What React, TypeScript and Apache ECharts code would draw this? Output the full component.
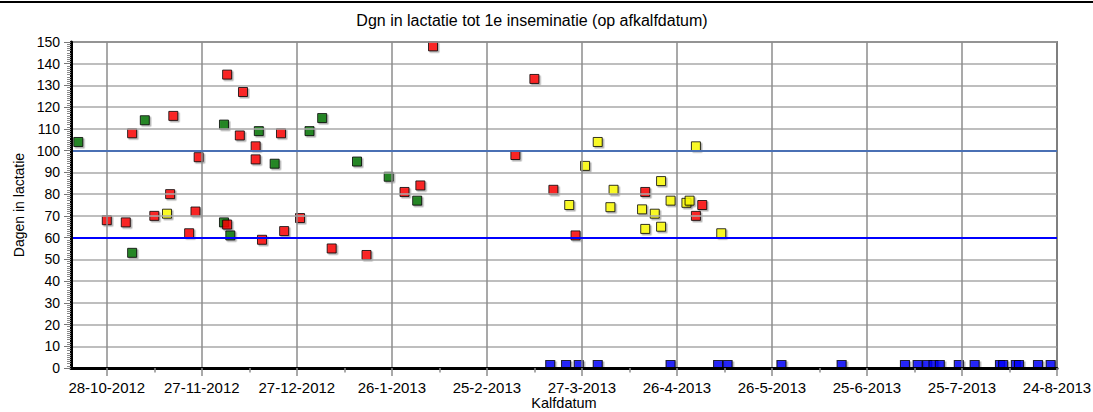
import React, { useEffect, useRef } from "react";
import * as echarts from "echarts";

const BASE = Date.UTC(2012, 9, 28);
const DAY = 86400000;

const TITLE = "Dgn in lactatie tot 1e inseminatie (op afkalfdatum)";
const Y_NAME = "Dagen in lactatie";
const X_NAME = "Kalfdatum";

const TICK_DATES = [
  "2012-10-28", "2012-11-27", "2012-12-27", "2013-01-26", "2013-02-25", "2013-03-27",
  "2013-04-26", "2013-05-26", "2013-06-25", "2013-07-25", "2013-08-24",
];
const X_MIN_DAYS = -11.3;
const X_MAX_DAYS = 300;
const Y_MIN = 0;
const Y_MAX = 150;
const Y_STEP = 10;
const REF_LINES = [100, 60];

const RED_DATES = [
  "2012-11-05", "2012-11-18", "2012-12-05", "2012-12-10", "2012-12-09", "2012-12-22",
  "2012-12-14", "2012-12-14", "2012-11-26", "2012-11-17", "2012-10-28", "2012-11-03",
  "2012-11-12", "2012-11-25", "2012-11-23", "2012-12-05", "2012-12-16", "2012-12-23",
  "2012-12-28", "2013-01-07", "2013-01-18", "2013-02-08", "2013-03-12", "2013-03-06",
  "2013-01-30", "2013-02-04", "2013-03-18", "2013-04-16", "2013-05-04", "2013-05-02",
  "2013-03-25",
];
const RED_VALUES = [
  108, 116, 135, 127, 107, 108, 102, 96, 97, 80, 68, 67, 70, 72, 62, 66, 59, 63, 69, 55,
  52, 148, 133, 98, 81, 84, 82, 81, 75, 70, 61,
];

const GREEN_DATES = [
  "2012-10-19", "2012-11-09", "2012-12-04", "2012-12-15", "2012-12-31", "2013-01-04",
  "2012-12-20", "2013-01-15", "2013-01-25", "2012-11-05", "2012-12-04", "2012-12-06",
  "2013-02-03",
];
const GREEN_VALUES = [104, 114, 112, 109, 109, 115, 94, 95, 88, 53, 67, 61, 77];

const YELLOW_DATES = [
  "2012-11-16", "2013-04-01", "2013-05-02", "2013-03-28", "2013-04-21", "2013-04-06",
  "2013-03-23", "2013-04-05", "2013-04-24", "2013-04-29", "2013-04-30", "2013-04-15",
  "2013-04-19", "2013-04-16", "2013-04-21", "2013-05-10",
];
const YELLOW_VALUES = [71, 104, 102, 93, 86, 82, 75, 74, 77, 76, 77, 73, 71, 64, 65, 62];

const BLUE_DATES = [
  "2013-03-17", "2013-03-22", "2013-03-26", "2013-04-01", "2013-04-24", "2013-05-09",
  "2013-05-12", "2013-05-29", "2013-06-17", "2013-07-07", "2013-07-11", "2013-07-14",
  "2013-07-16", "2013-07-18", "2013-07-24", "2013-07-29", "2013-08-06", "2013-08-07",
  "2013-08-11", "2013-08-12", "2013-08-18", "2013-08-22",
];
const BLUE_VALUES = [0, 0, 0, 0, 0, 0, 0, 0, 0, 0, 0, 0, 0, 0, 0, 0, 0, 0, 0, 0, 0, 0];

const FONT = "'Liberation Sans', Arial, sans-serif";

const toDays = (s: string) => (Date.parse(s + "T00:00:00Z") - BASE) / DAY;
const fmtDate = (v: number) => {
  const d = new Date(BASE + Math.round(v) * DAY);
  return `${d.getUTCDate()}-${d.getUTCMonth() + 1}-${d.getUTCFullYear()}`;
};
const pairs = (dates: string[], vals: number[]) => dates.map((d, i) => [toDays(d), vals[i]]);

export default function App() {
  const ref = useRef<HTMLDivElement>(null);
  useEffect(() => {
    if (!ref.current) return;
    const chart = echarts.init(ref.current, undefined, { renderer: "svg" });
    const tickVals = TICK_DATES.map(toDays);
    const midVals = tickVals.slice(0, -1).map((v, i) => (v + tickVals[i + 1]) / 2);
    const markerStyle = (color: string) => ({
      color,
      borderColor: "#000",
      borderWidth: 1,
      shadowColor: "rgba(0,0,0,0.35)",
      shadowOffsetX: 1.5,
      shadowOffsetY: 1.5,
      shadowBlur: 1,
    });
    const option: any = {
      animation: false,
      textStyle: { fontFamily: FONT },
      graphic: [
        {
          type: "line",
          shape: { x1: 0, y1: 2, x2: 1093, y2: 2 },
          style: { stroke: "#000", lineWidth: 2 },
          silent: true,
        },
        {
          type: "text",
          x: 532,
          y: 20,
          style: {
            text: TITLE,
            fontSize: 16,
            fontFamily: FONT,
            fill: "#000",
            align: "center",
            verticalAlign: "middle",
            textAlign: "center",
            textVerticalAlign: "middle",
          },
          silent: true,
        },
      ],
      grid: {
        left: 71,
        right: 36,
        top: 42,
        bottom: 44,
        show: true,
        containLabel: false,
        outerBoundsMode: "none",
        borderColor: "#222",
        borderWidth: 1.5,
        backgroundColor: "transparent",
      },
      xAxis: [
        {
          type: "value",
          min: X_MIN_DAYS,
          max: X_MAX_DAYS,
          position: "bottom",
          z: 5,
          axisLine: { show: true, onZero: false, lineStyle: { color: "#000", width: 3 } },
          axisTick: {
            show: true,
            customValues: tickVals,
            length: 8,
            lineStyle: { color: "#8c8c8c", width: 1.5 },
          },
          axisLabel: {
            show: true,
            customValues: tickVals,
            formatter: fmtDate,
            fontSize: 15,
            fontFamily: FONT,
            color: "#000",
            margin: 12,
          },
          splitLine: { show: true, lineStyle: { color: "#8c8c8c", width: 1.5 } },
          name: X_NAME,
          nameLocation: "middle",
          nameGap: 28,
          nameMoveOverlap: false,
          nameTextStyle: { fontSize: 14.5, lineHeight: 14, fontFamily: FONT, color: "#000" },
        },
        {
          type: "value",
          min: X_MIN_DAYS,
          max: X_MAX_DAYS,
          position: "bottom",
          z: 5,
          axisLine: { show: false },
          axisTick: {
            show: true,
            customValues: midVals,
            length: 4.5,
            lineStyle: { color: "#8c8c8c", width: 1.5 },
          },
          axisLabel: { show: false },
          splitLine: { show: false },
        },
      ],
      yAxis: {
        type: "value",
        min: Y_MIN,
        max: Y_MAX,
        interval: Y_STEP,
        z: 5,
        axisLine: { show: true, onZero: false, lineStyle: { color: "#000", width: 3 } },
        axisTick: { show: true, length: 7, lineStyle: { color: "#777", width: 1 } },
        minorTick: { show: true, splitNumber: 10, length: 4, lineStyle: { color: "#888", width: 1 } },
        minorSplitLine: { show: false },
        axisLabel: { fontSize: 14, fontFamily: FONT, color: "#000", margin: 11 },
        splitLine: { show: true, lineStyle: { color: "#a8a8a8", width: 1.5 } },
        name: Y_NAME,
        nameLocation: "middle",
        nameGap: 45,
        nameMoveOverlap: false,
        nameTextStyle: { fontSize: 14, fontFamily: FONT, color: "#000" },
      },
      series: [
        {
          type: "scatter",
          data: [],
          z: 1,
          silent: true,
          markLine: {
            silent: true,
            symbol: "none",
            label: { show: false },
            data: REF_LINES.map((v, i) => ({
              yAxis: v,
              lineStyle: { color: i === 0 ? "#4a70b4" : "#0000ff", width: 2, type: "solid" },
            })),
          },
        },
        {
          type: "scatter",
          symbol: "rect",
          symbolSize: 9,
          z: 3,
          data: pairs(GREEN_DATES, GREEN_VALUES),
          itemStyle: markerStyle("#007400"),
        },
        {
          type: "scatter",
          symbol: "rect",
          symbolSize: 9,
          z: 3,
          data: pairs(YELLOW_DATES, YELLOW_VALUES),
          itemStyle: markerStyle("#ffff00"),
        },
        {
          type: "scatter",
          symbol: "rect",
          symbolSize: 9,
          z: 3,
          data: pairs(RED_DATES, RED_VALUES),
          itemStyle: markerStyle("#ff0000"),
        },
        {
          type: "scatter",
          symbol: "rect",
          symbolSize: [9, 7],
          symbolOffset: [0, -4],
          z: 3,
          data: pairs(BLUE_DATES, BLUE_VALUES),
          itemStyle: markerStyle("#0000ff"),
        },
      ],
    };
    chart.setOption(option);
    return () => chart.dispose();
  }, []);
  return (
    <div
      ref={ref}
      style={{ position: "absolute", left: 0, top: 0, width: 1093, height: 412, background: "#fff" }}
    />
  );
}
